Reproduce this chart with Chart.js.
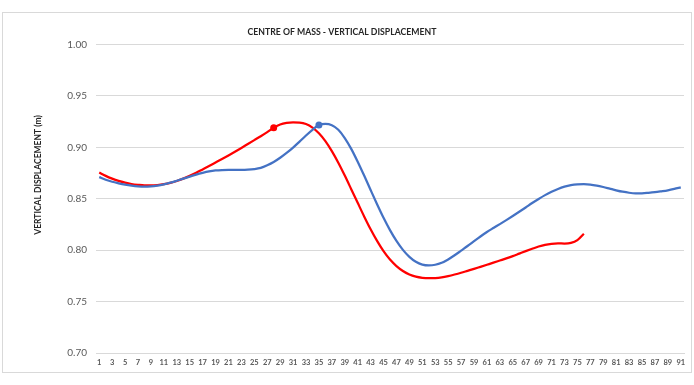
<!DOCTYPE html>
<html>
<head>
<meta charset="utf-8">
<script src="https://cdn.jsdelivr.net/npm/chart.js@4"></script>
<style>
  html, body { margin: 0; padding: 0; background: #fff; }
  #wrap { width: 694px; height: 385px; }
</style>
</head>
<body>
<div id="wrap"><canvas id="chart" width="694" height="385"></canvas></div>
<script>
var frames = [1, 2, 3, 4, 5, 6, 7, 8, 9, 10, 11, 12, 13, 14, 15, 16, 17, 18, 19, 20,
  21, 22, 23, 24, 25, 26, 27, 28, 29, 30, 31, 32, 33, 34, 35, 36, 37, 38, 39, 40,
  41, 42, 43, 44, 45, 46, 47, 48, 49, 50, 51, 52, 53, 54, 55, 56, 57, 58, 59, 60,
  61, 62, 63, 64, 65, 66, 67, 68, 69, 70, 71, 72, 73, 74, 75, 76, 77, 78, 79, 80,
  81, 82, 83, 84, 85, 86, 87, 88, 89, 90, 91];

// blue trace
var blueCom = [0.8710, 0.8685, 0.8665, 0.8650, 0.8637, 0.8627, 0.8620, 0.8617, 0.8620, 0.8628,
  0.8640, 0.8656, 0.8675, 0.8695, 0.8715, 0.8735, 0.8752, 0.8766, 0.8775, 0.8779,
  0.8780, 0.8780, 0.8780, 0.8782, 0.8788, 0.8800, 0.8825, 0.8857, 0.8898, 0.8945,
  0.8997, 0.9055, 0.9115, 0.9170, 0.9216, 0.9228, 0.9215, 0.9170, 0.9090, 0.8985,
  0.8860, 0.8725, 0.8585, 0.8447, 0.8315, 0.8195, 0.8090, 0.8003, 0.7935, 0.7887,
  0.7860, 0.7852, 0.7858, 0.7877, 0.7910, 0.7950, 0.7995, 0.8040, 0.8087, 0.8133,
  0.8176, 0.8215, 0.8253, 0.8292, 0.8332, 0.8373, 0.8415, 0.8458, 0.8498, 0.8535,
  0.8567, 0.8595, 0.8617, 0.8632, 0.8640, 0.8642, 0.8638, 0.8628, 0.8614, 0.8598,
  0.8582, 0.8568, 0.8558, 0.8553, 0.8553, 0.8557, 0.8563, 0.8572, 0.8582, 0.8595, 0.8610];

// red trace (shorter)
var redCom = [0.8755, 0.8722, 0.8695, 0.8673, 0.8656, 0.8643, 0.8635, 0.8630, 0.8630, 0.8633,
  0.8641, 0.8654, 0.8672, 0.8695, 0.8722, 0.8752, 0.8785, 0.8818, 0.8852, 0.8886,
  0.8921, 0.8957, 0.8994, 0.9032, 0.9070, 0.9108, 0.9148, 0.9190, 0.9222, 0.9237,
  0.9242, 0.9240, 0.9226, 0.9192, 0.9137, 0.9060, 0.8963, 0.8850, 0.8725, 0.8593,
  0.8460, 0.8328, 0.8203, 0.8090, 0.7990, 0.7908, 0.7845, 0.7797, 0.7763, 0.7742,
  0.7731, 0.7727, 0.7729, 0.7736, 0.7748, 0.7763, 0.7780, 0.7799, 0.7818, 0.7838,
  0.7858, 0.7878, 0.7899, 0.7920, 0.7942, 0.7966, 0.7990, 0.8013, 0.8035, 0.8052,
  0.8062, 0.8066, 0.8064, 0.8070, 0.8098, 0.8160];

var blueMarkIdx = 34; // frame 35
var redMarkIdx = 27;  // frame 28

var yTicks = [0.70, 0.75, 0.80, 0.85, 0.90, 0.95, 1.00];
var yTitle = "VERTICAL DISPLACEMENT (m)";

function markRadius(arr, idx) {
  return arr.map(function (v, i) { return i === idx ? 3.5 : 0; });
}

var frameBox = {
  id: "frameBox",
  beforeDraw: function (chart) {
    var c = chart.ctx;
    c.save();
    c.fillStyle = "#fff";
    c.fillRect(0, 0, chart.width, chart.height);
    c.strokeStyle = "#d9d9d9";
    c.lineWidth = 1;
    c.strokeRect(2.5, 12.5, 689, 360);
    c.restore();
  },
  // excel puts the axis title a bit above the middle, so draw it by hand
  afterDraw: function (chart) {
    var c = chart.ctx;
    c.save();
    c.translate(38, 175);
    c.rotate(-Math.PI / 2);
    c.font = "bold 8.5px Lato";
    c.fillStyle = "#262626";
    c.textAlign = "center";
    c.textBaseline = "middle";
    c.fillText(yTitle, 0, 0);
    c.restore();
  }
};

var ctx = document.getElementById("chart");
var comChart = new Chart(ctx, {
  type: "line",
  data: {
    labels: frames,
    datasets: [
      {
        label: "Blue",
        data: blueCom,
        borderColor: "#4472C4",
        backgroundColor: "#4472C4",
        borderWidth: 2.25,
        pointRadius: markRadius(blueCom, blueMarkIdx),
        pointBorderWidth: 0,
        cubicInterpolationMode: "monotone",
        fill: false,
      },
      {
        label: "Red",
        data: redCom,
        borderColor: "#FF0000",
        backgroundColor: "#FF0000",
        borderWidth: 2.25,
        pointRadius: markRadius(redCom, redMarkIdx),
        pointBorderWidth: 0,
        cubicInterpolationMode: "monotone",
        fill: false,
      },
    ],
  },
  options: {
    responsive: false,
    animation: false,
    layout: { padding: { left: 0, right: 10, top: 26, bottom: 0 } },
    plugins: {
      legend: { display: false },
      tooltip: { enabled: false },
      title: {
        display: true,
        text: "CENTRE OF MASS - VERTICAL DISPLACEMENT",
        color: "#262626",
        font: { family: "Lato", size: 8.7, weight: "bold" },
        padding: { top: 1, bottom: 7 },
      },
    },
    scales: {
      x: {
        offset: true,
        grid: { display: false, drawTicks: false },
        border: { display: true, color: "#d9d9d9", width: 1 },
        ticks: {
          autoSkip: false,
          maxRotation: 0,
          minRotation: 0,
          padding: 5,
          color: "#595959",
          font: { family: "Lato", size: 7.5, weight: "bold" },
          callback: function (val, i) {
            return i % 2 === 0 ? frames[i] : "";
          },
        },
        afterFit: function (s) { s.height = 32; },
      },
      y: {
        min: 0.7,
        max: 1.0,
        grid: { color: "#d9d9d9", drawTicks: false },
        border: { display: false },
        afterBuildTicks: function (s) {
          s.ticks = yTicks.map(function (v) { return { value: v }; });
        },
        ticks: {
          padding: 9,
          color: "#595959",
          font: { family: "Lato", size: 10 },
          callback: function (v) { return Number(v).toFixed(2); },
        },
        afterFit: function (s) { s.width = 96; },
      },
    },
  },
  plugins: [frameBox],
});
</script>
</body>
</html>
